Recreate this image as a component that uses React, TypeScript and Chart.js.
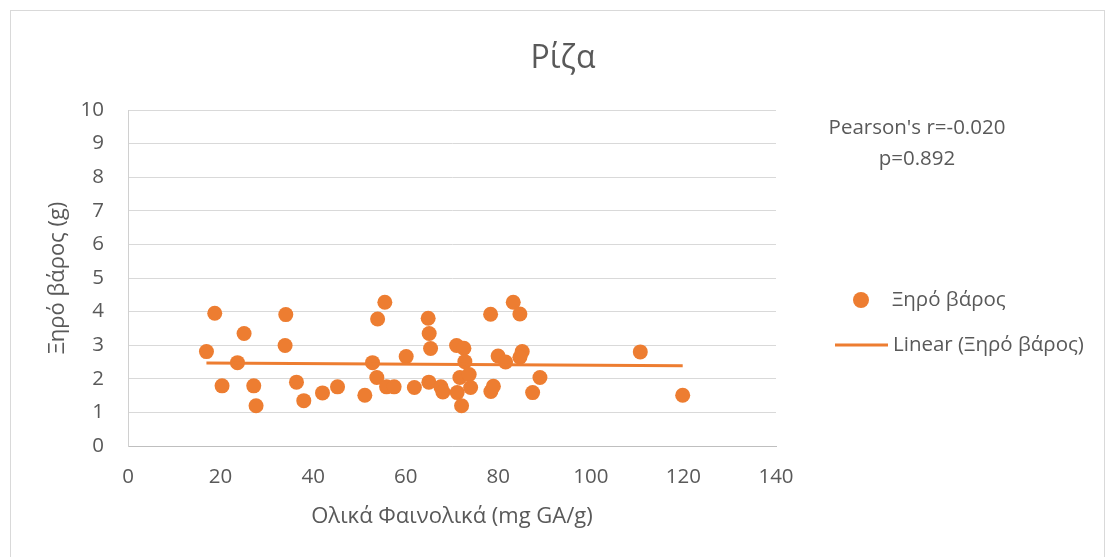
import { useEffect, useRef } from "react";
import { Chart, registerables } from "chart.js";

Chart.register(...registerables);

const chartTitle = "Ρίζα";
const xAxisTitle = "Ολικά Φαινολικά (mg GA/g)";
const yAxisTitle = "Ξηρό βάρος (g)";
const seriesLabel = "Ξηρό βάρος";
const trendLabel = "Linear (Ξηρό βάρος)";
const statsLines = ["Pearson's r=-0.020", "p=0.892"];

const phenolics = [
  16.95, 18.74, 20.32, 23.65, 25.08, 27.17, 27.67, 33.94, 34.09, 36.4,
  37.98, 42.02, 45.27, 51.17, 52.83, 53.76, 53.93, 55.49, 55.86, 57.5,
  60.1, 61.87, 64.85, 65.07, 65.37, 65.0, 67.6, 68.03, 70.99, 72.57,
  72.78, 71.7, 73.71, 71.12, 74.02, 72.07, 78.34, 79.96, 81.58, 83.23,
  84.67, 85.17, 84.67, 78.4, 78.94, 87.42, 89.0, 110.68, 119.84,
];
const dryWeight = [
  2.81, 3.95, 1.79, 2.48, 3.35, 1.79, 1.2, 2.99, 3.91, 1.9,
  1.35, 1.58, 1.76, 1.51, 2.48, 2.04, 3.78, 4.28, 1.76, 1.76,
  2.66, 1.74, 3.8, 3.35, 2.9, 1.9, 1.76, 1.61, 2.99, 2.91,
  2.51, 2.04, 2.13, 1.59, 1.74, 1.2, 3.92, 2.68, 2.5, 4.28,
  3.93, 2.81, 2.64, 1.62, 1.78, 1.59, 2.04, 2.8, 1.51,
];

const ORANGE = "#ED7D31";
const TEXT = "#595959";
const FONT = "'Open Sans', sans-serif";

export default function App() {
  const ref = useRef<HTMLCanvasElement>(null);

  useEffect(() => {
    const n = phenolics.length;
    const mx = phenolics.reduce((a, b) => a + b, 0) / n;
    const my = dryWeight.reduce((a, b) => a + b, 0) / n;
    let sxy = 0;
    let sxx = 0;
    for (let i = 0; i < n; i++) {
      sxy += (phenolics[i] - mx) * (dryWeight[i] - my);
      sxx += (phenolics[i] - mx) * (phenolics[i] - mx);
    }
    const slope = sxy / sxx;
    const intercept = my - slope * mx;
    const xmin = Math.min(...phenolics);
    const xmax = Math.max(...phenolics);
    const trend = [
      { x: xmin, y: intercept + slope * xmin },
      { x: xmax, y: intercept + slope * xmax },
    ];
    const points = phenolics.map((x, i) => ({ x, y: dryWeight[i] }));

    const overlay = {
      id: "overlay",
      beforeDraw(chart: any) {
        const ctx = chart.ctx;
        ctx.save();
        ctx.fillStyle = "#ffffff";
        ctx.fillRect(0, 0, chart.width, chart.height);
        ctx.restore();
      },
      afterDraw(chart: any) {
        const ctx = chart.ctx;
        ctx.save();
        // outer border
        ctx.strokeStyle = "#D9D9D9";
        ctx.lineWidth = 1;
        ctx.strokeRect(10.5, 10.5, 1094, 560);
        // title
        ctx.fillStyle = TEXT;
        ctx.font = `32px ${FONT}`;
        ctx.textAlign = "center";
        ctx.textBaseline = "alphabetic";
        ctx.fillText(chartTitle, 563, 68);
        // stats annotation
        ctx.font = `20.5px ${FONT}`;
        ctx.fillText(statsLines[0], 917, 134);
        ctx.fillText(statsLines[1], 917, 165);
        // legend
        ctx.textAlign = "left";
        ctx.textBaseline = "middle";
        ctx.fillStyle = ORANGE;
        ctx.beginPath();
        ctx.arc(861, 300, 8, 0, Math.PI * 2);
        ctx.fill();
        ctx.strokeStyle = ORANGE;
        ctx.lineWidth = 3;
        ctx.beginPath();
        ctx.moveTo(835, 345);
        ctx.lineTo(888, 345);
        ctx.stroke();
        ctx.fillStyle = TEXT;
        ctx.fillText(seriesLabel, 892, 300);
        ctx.fillText(trendLabel, 893, 345);
        ctx.restore();
      },
    };

    const chart = new Chart(ref.current!, {
      type: "scatter",
      data: {
        datasets: [
          {
            type: "line",
            label: trendLabel,
            data: trend,
            borderColor: ORANGE,
            backgroundColor: ORANGE,
            borderWidth: 3,
            pointRadius: 0,
            fill: false,
            order: 0,
          } as any,
          {
            type: "scatter",
            label: seriesLabel,
            data: points,
            backgroundColor: ORANGE,
            borderColor: ORANGE,
            borderWidth: 0,
            pointRadius: 7.5,
            pointHoverRadius: 7.5,
            order: 1,
          },
        ],
      },
      options: {
        responsive: false,
        animation: false,
        devicePixelRatio: 1,
        events: [],
        layout: { padding: { left: 0, top: 110, right: 334, bottom: 0 } },
        plugins: {
          legend: { display: false },
          title: { display: false },
          tooltip: { enabled: false },
        },
        scales: {
          x: {
            type: "linear",
            min: 0,
            max: 140,
            ticks: { stepSize: 20, color: TEXT, font: { family: FONT, size: 20.5 }, padding: 19, maxRotation: 0 },
            grid: { display: false, drawTicks: false },
            border: { display: true, color: "#BFBFBF", width: 1 },
            title: {
              display: true,
              text: xAxisTitle,
              color: TEXT,
              font: { family: FONT, size: 22 },
              padding: { top: 0, bottom: 27 },
            },
            afterFit: (s: any) => {
              s.height = 111;
            },
          },
          y: {
            type: "linear",
            min: 0,
            max: 10,
            ticks: { stepSize: 1, color: TEXT, font: { family: FONT, size: 20.5 }, padding: 24 },
            grid: { color: "#D9D9D9", lineWidth: 1, drawTicks: false },
            border: { display: true, color: "#D0D0D0", width: 1 },
            title: {
              display: true,
              text: yAxisTitle,
              color: TEXT,
              font: { family: FONT, size: 22 },
              padding: { top: 45, bottom: 0 },
            },
            afterFit: (s: any) => {
              s.width = 128;
            },
          },
        },
      },
      plugins: [overlay],
    });
    return () => chart.destroy();
  }, []);

  return (
    <div style={{ position: "absolute", left: 0, top: 0, width: 1110, height: 557, background: "#fff" }}>
      <canvas ref={ref} width={1110} height={557} style={{ display: "block" }} />
    </div>
  );
}
